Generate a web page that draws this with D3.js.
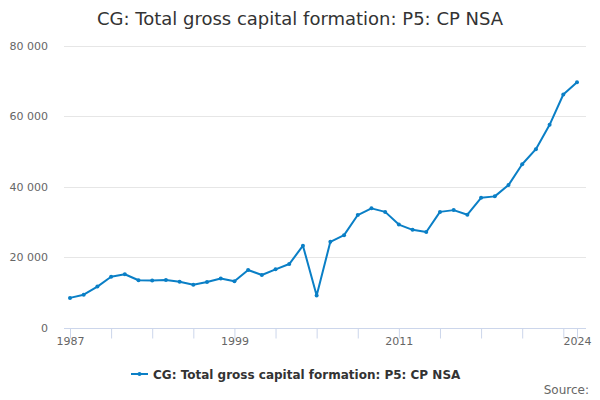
<!DOCTYPE html>
<html>
<head>
<meta charset="utf-8">
<script src="https://cdn.jsdelivr.net/npm/d3@7"></script>
<style>
  body { margin: 0; background: #fff; }
  svg { font-family: "DejaVu Sans", sans-serif; }
</style>
</head>
<body>
<svg id="chart" width="600" height="400"></svg>
<script>
// chart data
const years = d3.range(1987, 2025);
const values = [
  8400, 9300, 11600, 14400, 15100, 13400, 13300, 13500, 13000, 12100,
  12900, 13900, 13100, 16300, 14900, 16500, 18000, 23200, 9100, 24300,
  26200, 31900, 33800, 32800, 29200, 27700, 27100, 32800, 33300, 32000,
  36800, 37200, 40400, 46300, 50600, 57500, 66100, 69600
];
const yTicks = [0, 20000, 40000, 60000, 80000];
const xLabels = [1987, 1999, 2011, 2024];
const seriesName = "CG: Total gross capital formation: P5: CP NSA";

const margin = { top: 46, right: 14, bottom: 73, left: 64 };
const width = 600, height = 400;
const blue = "#0a7fc6";

const svg = d3.select("#chart");

const x = d3.scaleLinear()
  .domain([1987, 2024])
  .range([70, 577]);

const y = d3.scaleLinear()
  .domain([0, 80000])
  .range([height - margin.bottom + 0.5, margin.top - 0.5]);

const fmt = v => d3.format(",")(v).replace(/,/g, " ");

// title
svg.append("text")
  .attr("x", 300)
  .attr("y", 25)
  .attr("text-anchor", "middle")
  .attr("fill", "#333")
  .style("font-size", "18px")
  .text(seriesName);

// grid
svg.append("g")
  .selectAll("line")
  .data(yTicks.slice(1))
  .join("line")
  .attr("x1", margin.left)
  .attr("x2", width - margin.right)
  .attr("y1", d => Math.round(y(d)) + 0.5)
  .attr("y2", d => Math.round(y(d)) + 0.5)
  .attr("stroke", "#e6e6e6");

svg.append("g")
  .selectAll("text")
  .data(yTicks)
  .join("text")
  .attr("x", 48)
  .attr("y", d => y(d) + 4)
  .attr("text-anchor", "end")
  .attr("fill", "#666")
  .style("font-size", "11px")
  .text(fmt);

// x axis
const xTicks = d3.range(1987, 2024, 3).concat([2024]);
const xAxis = svg.append("g")
  .attr("transform", `translate(0,${Math.round(y(0)) + 0.5})`)
  .call(d3.axisBottom(x)
    .tickValues(xTicks)
    .tickSize(10)
    .tickFormat(d => xLabels.includes(d) ? d : ""));

xAxis.select(".domain")
  .attr("d", `M${margin.left},0H${width - margin.right}`)
  .attr("stroke", "#ccd6eb");
xAxis.selectAll(".tick line").attr("stroke", "#ccd6eb");
xAxis.selectAll(".tick text")
  .attr("fill", "#666")
  .attr("dy", "0.6em")
  .attr("y", 10)
  .style("font-size", "11px")
  .style("font-family", "DejaVu Sans, sans-serif");

// line
const data = years.map((yr, i) => ({ year: yr, value: values[i] }));
const line = d3.line()
  .x(d => x(d.year))
  .y(d => y(d.value));

svg.append("path")
  .datum(data)
  .attr("fill", "none")
  .attr("stroke", blue)
  .attr("stroke-width", 2)
  .attr("stroke-linejoin", "round")
  .attr("stroke-linecap", "round")
  .attr("d", line);

svg.append("g")
  .selectAll("circle")
  .data(data)
  .join("circle")
  .attr("cx", d => x(d.year))
  .attr("cy", d => y(d.value))
  .attr("r", 2)
  .attr("fill", blue);

// legend
const legend = svg.append("g").attr("transform", "translate(131,374)");
legend.append("line")
  .attr("x1", 0).attr("x2", 17)
  .attr("y1", 0).attr("y2", 0)
  .attr("stroke", blue)
  .attr("stroke-width", 2);
legend.append("circle")
  .attr("cx", 8.5).attr("cy", 0).attr("r", 2)
  .attr("fill", blue);
legend.append("text")
  .attr("x", 22)
  .attr("y", 4.5)
  .attr("fill", "#333")
  .style("font-size", "12px")
  .style("font-weight", "bold")
  .text(seriesName);

// credits
svg.append("text")
  .attr("x", 589)
  .attr("y", 394)
  .attr("text-anchor", "end")
  .attr("fill", "#666")
  .style("font-size", "12px")
  .text("Source:");
</script>
</body>
</html>
